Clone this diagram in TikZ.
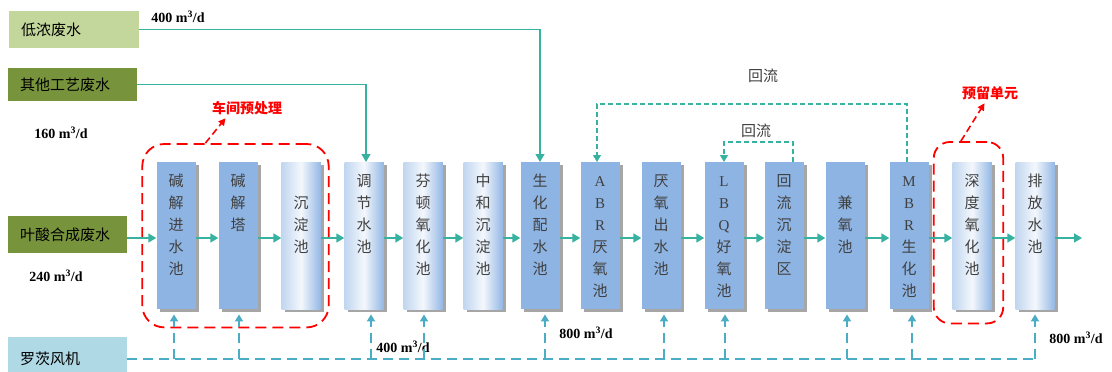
\documentclass[tikz,border=0pt]{standalone}
\usepackage{fontspec}
\setmainfont{Noto Sans CJK SC}
\newfontfamily\numfont{Liberation Serif}
\usetikzlibrary{arrows.meta,shadows,fit}
\definecolor{tankblue}{RGB}{142,180,227}
\definecolor{flowteal}{RGB}{56,178,160}
\definecolor{airblue}{RGB}{75,172,198}
\definecolor{lowgreen}{RGB}{195,214,155}
\definecolor{olivegreen}{RGB}{119,147,60}
\definecolor{fanblue}{RGB}{176,217,230}
\definecolor{txtgray}{RGB}{64,64,64}
\newcommand\tk[2][24]{\parbox[c][147pt][t]{39pt}{\centering\rule{0pt}{#1pt}#2}}
\begin{document}
\begin{tikzpicture}[x=1pt, y=-1pt,
        tank/.style={inner sep=0pt, fill=tankblue, anchor=north, text=txtgray, font=\fontsize{15}{22}\selectfont, drop shadow={shadow xshift=3pt, shadow yshift=-3pt, fill=black!35, opacity=1}},
        tankg/.style={tank, left color=white!45!tankblue, right color=tankblue!95, middle color=white!90!tankblue},
        src/.style={anchor=north west, inner xsep=12pt, inner ysep=0pt, text width=#1, align=left, font=\fontsize{15}{18}\selectfont},
        rate/.style={font=\numfont\bfseries\fontsize{14}{16}\selectfont},
        note/.style={text=txtgray, font=\fontsize{15}{18}\selectfont},
        flow/.style={draw=flowteal, line width=1.6pt, -{Triangle[length=8pt,width=9pt]}},
        air/.style={draw=airblue, line width=1.8pt, dash pattern=on 10pt off 6pt},
        ret/.style={draw=flowteal, line width=1.1pt, dash pattern=on 5pt off 3pt, -{Triangle[length=7pt,width=8pt]}},
        grp/.style={draw=red, line width=1.8pt, dash pattern=on 11pt off 6pt, rounded corners=22pt},
        callout/.style={text=red, font=\bfseries\fontsize{14}{16}\selectfont}]
        \useasboundingbox (0,0) rectangle (1112,372);
        % Sources
        \node[src=106pt, fill=lowgreen, minimum height=37pt] (dnfs) at (9,11) {低浓废水};
        \node[src=105pt, fill=olivegreen, minimum height=33pt] (qtfs) at (8,68) {其他工艺废水};
        \node[src=95pt, fill=olivegreen, minimum height=37pt] (ysfs) at (8,216) {叶酸合成废水};
        \node[src=95pt, fill=fanblue, minimum height=44pt] (fan) at (8,337) {罗茨风机};

        % Tanks
        \node[tank] (jjin) at (176,162) {\tk{碱\\解\\进\\水\\池}};
        \node[tank] (jjta) at (238,162) {\tk{碱\\解\\塔}};
        \node[tankg] (cdc) at (301,162) {\tk[46]{沉\\淀\\池}};
        \node[tankg] (tjc) at (364,162) {\tk{调\\节\\水\\池}};
        \node[tankg] (fdc) at (423,162) {\tk{芬\\顿\\氧\\化\\池}};
        \node[tankg] (zhc) at (483,162) {\tk{中\\和\\沉\\淀\\池}};
        \node[tank] (shpc) at (540,162) {\tk{生\\化\\配\\水\\池}};
        \node[tank] (abr) at (600,162) {\tk{{\numfont A}\\{\numfont B}\\{\numfont R}\\厌\\氧\\池}};
        \node[tank] (ycc) at (661,162) {\tk{厌\\氧\\出\\水\\池}};
        \node[tank] (lbq) at (724,162) {\tk{{\numfont L}\\{\numfont B}\\{\numfont Q}\\好\\氧\\池}};
        \node[tank] (hlc) at (784,162) {\tk{回\\流\\沉\\淀\\区}};
        \node[tank] (jyc) at (845,162) {\tk[46]{兼\\氧\\池}};
        \node[tank] (mbr) at (909,162) {\tk{{\numfont M}\\{\numfont B}\\{\numfont R}\\生\\化\\池}};
        \node[tankg] (sdc) at (972,162) {\tk{深\\度\\氧\\化\\池}};
        \node[tankg] (pfc) at (1035,162) {\tk{排\\放\\水\\池}};

        % Groups
        \node[grp, fit=(jjin)(cdc), inner xsep=11pt, inner ysep=18pt, xshift=-3pt] (cjgrp) {};
        \node[grp, fit=(sdc), inner xsep=15pt, inner ysep=17pt, xshift=-3.5pt, yshift=3pt, rounded corners=16pt] (ylgrp) {};
        \node[callout] (cj) at (247,108) {车间预处理};
        \node[callout] (yl) at (990,93) {预留单元};

        % Labels
        \node[rate] (r1) at (178,17) {400 m\textsuperscript{3}/d};
        \node[rate] (r2) at (61,133) {160 m\textsuperscript{3}/d};
        \node[rate] (r3) at (56,276) {240 m\textsuperscript{3}/d};
        \node[rate] (r4) at (403,347) {400 m\textsuperscript{3}/d};
        \node[rate] (r5) at (586,333) {800 m\textsuperscript{3}/d};
        \node[rate] (r6) at (1076,338) {800 m\textsuperscript{3}/d};
        \node[note] (hl1) at (763,76) {回流};
        \node[note] (hl2) at (756,131) {回流};

        % Connectors
        \foreach \a/\b in {ysfs/jjin, jjin/jjta, jjta/cdc, cdc/tjc, tjc/fdc, fdc/zhc, zhc/shpc, shpc/abr, abr/ycc, ycc/lbq, lbq/hlc, hlc/jyc, jyc/mbr, mbr/sdc, sdc/pfc}
            \draw[flow] (\a.east |- 0,238) -- (\b.west |- 0,238);
        \coordinate (outlet) at (1082,238);
        \draw[flow] (pfc.east |- outlet) -- (outlet);
        \draw[flow, line width=1.2pt] (dnfs.east) -| (shpc.north);
        \draw[flow, line width=1.2pt] (qtfs.east) -| ([xshift=2pt]tjc.north);

        % Air
        \coordinate (airend) at (pfc.south |- fan.east);
        \draw[air] (fan.east) -- (airend);
        \foreach \t/\dx in {jjin/-2, jjta/1, tjc/7, fdc/1, shpc/5, ycc/3, lbq/1, jyc/2, mbr/3, pfc/0}
            \draw[air, -{Triangle[length=7pt,width=8pt]}] ([xshift=\dx pt]\t.south |- fan.east) -- ([xshift=\dx pt, yshift=-5pt]\t.south);

        % Return flows
        \draw[ret] ([xshift=-2pt]mbr.north) -- ++(0,-58) -| ([xshift=-3pt]abr.north);
        \draw[ret] ([xshift=9pt]hlc.north) -- ++(0,-20) -| (lbq.north);

        % Callouts
        \draw[red, line width=1.6pt, dash pattern=on 7pt off 4pt, -{Triangle[length=7pt,width=7pt]}] ([xshift=64pt]cjgrp.north west) -- ([xshift=17pt]cj.south west);
        \draw[red, line width=1.6pt, dash pattern=on 7pt off 4pt, -{Triangle[length=7pt,width=7pt]}] ([xshift=28pt]ylgrp.north west) -- ([xshift=26pt]yl.south west);
    \end{tikzpicture}
\end{document}
